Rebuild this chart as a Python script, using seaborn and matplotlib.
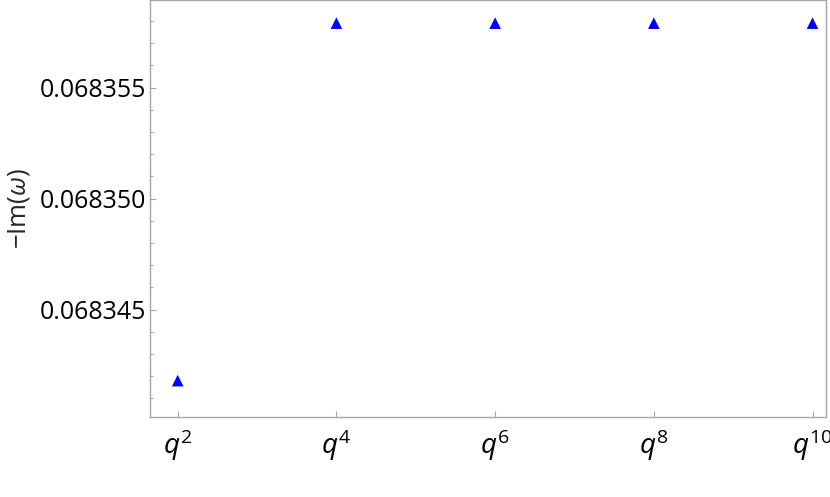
import numpy as np
import pandas as pd
import matplotlib
matplotlib.use("Agg")
import matplotlib.pyplot as plt
import seaborn as sns
from matplotlib.ticker import FixedLocator, FormatStrFormatter

# data
powers = [2, 4, 6, 8, 10]
im_omega = [0.0683418, 0.0683579, 0.0683579, 0.0683579, 0.0683579]
x_labels = [r'$q^{2}$', r'$q^{4}$', r'$q^{6}$', r'$q^{8}$', r'$q^{10}$']
y_major = [0.068345, 0.068350, 0.068355]
y_minor = [0.068341, 0.068342, 0.068343, 0.068344,
           0.068346, 0.068347, 0.068348, 0.068349,
           0.068351, 0.068352, 0.068353, 0.068354,
           0.068356, 0.068357, 0.068358]

df = pd.DataFrame({'order': powers, 'im': im_omega})

sns.set_theme(style="white")
plt.rcParams['font.family'] = ['Open Sans', 'DejaVu Sans']
plt.rcParams['mathtext.fontset'] = 'custom'
plt.rcParams['mathtext.rm'] = 'Open Sans'
plt.rcParams['mathtext.it'] = 'Open Sans:italic'

fig = plt.figure(figsize=(8.3, 4.97), dpi=100)
ax = fig.add_axes([0.1813, 0.16, 0.8139, 0.839])

sns.scatterplot(data=df, x='order', y='im', ax=ax, marker='^', s=70,
                color='#0000ff', edgecolor='none', legend=False)

ax.set_xlim(1.657, 10.17)
ax.set_ylim(0.06834014, 0.06835892)

ax.set_xticks(powers)
ax.set_xticklabels(x_labels)
ax.yaxis.set_major_locator(FixedLocator(y_major))
ax.yaxis.set_minor_locator(FixedLocator(y_minor))
ax.yaxis.set_major_formatter(FormatStrFormatter('%.6f'))

ax.set_xlabel('')
ax.set_ylabel(r'$-$Im($\omega$)', fontsize=18.5, labelpad=6)

gray = '#a6a6a6'
for side, sp in ax.spines.items():
    sp.set_color(gray)
    sp.set_linewidth(1.0)

ax.tick_params(axis='both', which='major', direction='in', length=4,
               width=0.8, color=gray, labelcolor='black')
ax.tick_params(axis='y', which='major', labelsize=18, pad=3)
ax.tick_params(axis='x', which='major', labelsize=20, pad=7)
ax.tick_params(axis='y', which='minor', direction='in', length=2.5,
               width=0.8, color=gray, left=True)
ax.tick_params(top=False, right=False, bottom=True, left=True)

fig.savefig('out.png', dpi=100)
